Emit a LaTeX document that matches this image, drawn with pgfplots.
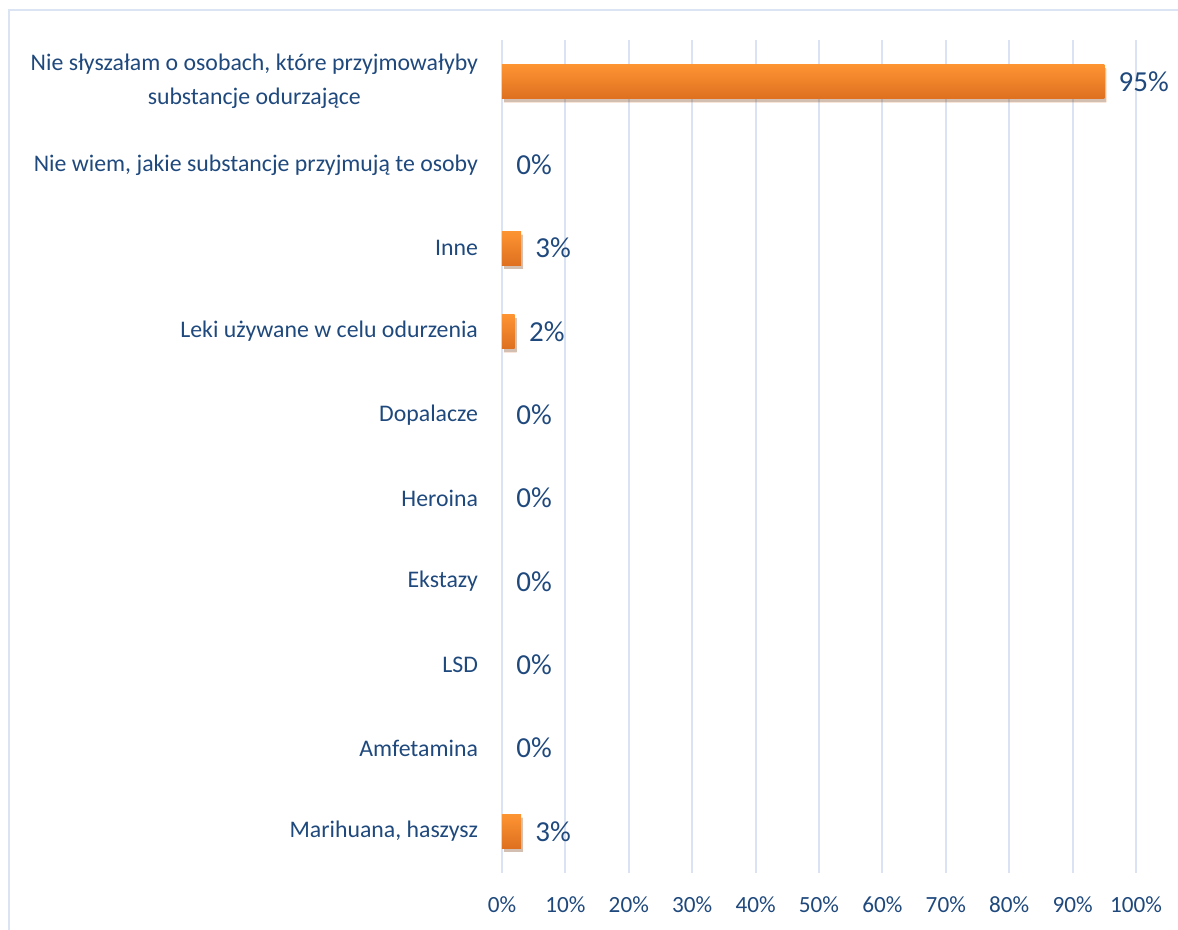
\documentclass[border=0pt]{standalone}
\usepackage{fontspec}
\setmainfont{Carlito}
\usepackage{pgfplots}
\pgfplotsset{compat=1.18}
\usetikzlibrary{shadows}
\definecolor{txt}{RGB}{31,73,125}
\definecolor{gridc}{RGB}{217,227,243}
\definecolor{frame}{RGB}{218,228,243}
\definecolor{bartop}{RGB}{253,148,50}
\definecolor{barbot}{RGB}{222,112,32}
\pgfplotsset{
    orangebar/.style={draw=none, top color=bartop, bottom color=barbot,
        drop shadow={fill=black, opacity=0.18, shadow xshift=1pt, shadow yshift=-1.8pt}},
    emptybar/.style={draw=none, fill=none},
}
\begin{document}
\begin{tikzpicture}
% page size: 1178x930 px at 0.5pt per px
\useasboundingbox (-251pt,-28.5pt) rectangle (338pt,436.5pt);
\draw[frame, line width=1pt] (-246.5pt,-28.5pt) -- (-246.5pt,431.5pt) -- (338pt,431.5pt);
\begin{axis}[
    at={(0,0)}, anchor=south west,
    scale only axis,
    width=317pt, height=416.5pt,
    xmin=0, xmax=100,
    ymin=-0.5, ymax=9.5,
    axis line style={draw=none},
    xtick={0,10,...,100},
    xticklabel={\pgfmathprintnumber{\tick}\%},
    xmajorgrids,
    grid style={gridc, line width=1pt},
    major tick length=0pt,
    ytick={0,...,9},
    yticklabels={
        {Marihuana, haszysz},
        {Amfetamina},
        {LSD},
        {Ekstazy},
        {Heroina},
        {Dopalacze},
        {Leki używane w celu odurzenia},
        {Inne},
        {Nie wiem, jakie substancje przyjmują te osoby},
        {Nie słyszałam o osobach, które przyjmowałyby\\substancje odurzające}
    },
    y tick label style={font=\fontsize{11.9}{17}\selectfont, text=txt, align=center, xshift=-8.5pt},
    x tick label style={font=\fontsize{11.6}{13}\selectfont, text=txt, yshift=-8.5pt},
    /pgf/number format/assume math mode=true,
    xbar,
    bar width=17pt,
    bar shift=0pt,
    nodes near coords={\pgfmathprintnumber{\pgfplotspointmeta}\%},
    nodes near coords align=horizontal,
    every node near coord/.append style={font=\fontsize{14.5}{16}\selectfont, text=txt, inner sep=0pt, xshift=7pt},
    clip=false,
]
% one plot per bar so that each bar gets its own shading
\addplot[orangebar] coordinates {(3,0)};
\addplot[emptybar] coordinates {(0,1) (0,2) (0,3) (0,4) (0,5) (0,8)};
\addplot[orangebar] coordinates {(2,6)};
\addplot[orangebar] coordinates {(3,7)};
\addplot[orangebar] coordinates {(95,9)};
\end{axis}
\end{tikzpicture}
\end{document}
